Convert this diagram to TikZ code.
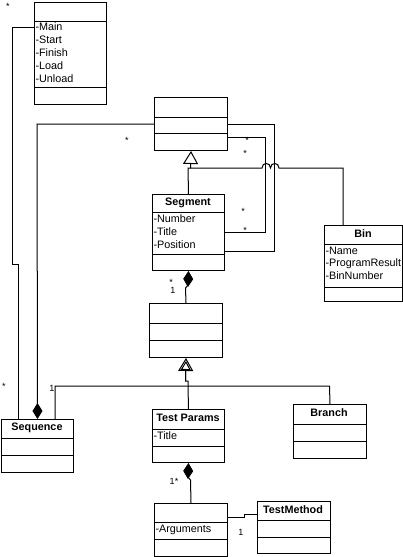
\documentclass[tikz,border=0pt]{standalone}
\usepackage{fontspec}
\setmainfont{Liberation Sans}
\usetikzlibrary{arrows.meta}

\begin{document}
\begin{tikzpicture}[x=1pt,y=-1pt,font=\fontsize{10.8}{13}\selectfont,
  cls/.style={draw,line width=1pt,inner sep=0,anchor=north west},
  attr/.style={anchor=west,inner sep=0},
  ttl/.style={inner sep=0,font=\fontsize{10.8}{13}\selectfont\bfseries},
  mult/.style={inner sep=0,font=\fontsize{9}{10}\selectfont},
  comp/.style={-{Diamond[length=16pt,width=10pt]}},
  gen/.style={-{Triangle[open,length=13pt,width=15pt]}}]
\useasboundingbox (0,0) rectangle (403,557);
\begin{scope}[line width=1pt]
%classes
\node[cls,minimum width=72,minimum height=102] (ctl) at (34,2) {};
\draw (34,21) -- (106,21);
\draw (34,87) -- (106,87);
\node[attr] (main) at (35,27) {-Main};
\node[attr] (start) at (35,40) {-Start};
\node[attr] (finish) at (35,53) {-Finish};
\node[attr] (load) at (35,66) {-Load};
\node[attr] (unload) at (35,79) {-Unload};

\node[cls,minimum width=73,minimum height=53] (base) at (154,97) {};
\draw (154,117) -- (227,117);
\draw (154,133) -- (227,133);

\node[cls,minimum width=72,minimum height=76] (seg) at (152,194) {};
\draw (152,212) -- (224,212);
\draw (152,254) -- (224,254);
\node[ttl] (segt) at (188,203) {Segment};
\node[attr] (number) at (153,219) {-Number};
\node[attr] (segtitle) at (153,232) {-Title};
\node[attr] (position) at (153,245) {-Position};

\node[cls,minimum width=78,minimum height=76] (bin) at (324,225) {};
\draw (324,244) -- (402,244);
\draw (324,287) -- (402,287);
\node[ttl] (bint) at (363,234) {Bin};
\node[attr] (name) at (325,251) {-Name};
\node[attr] (result) at (325,264) {-ProgramResult};
\node[attr] (binnum) at (325,276) {-BinNumber};

\node[cls,minimum width=73,minimum height=54] (step) at (149,303) {};
\draw (149,323) -- (222,323);
\draw (149,340) -- (222,340);

\node[cls,minimum width=72,minimum height=53] (seq) at (1,419) {};
\draw (1,438) -- (73,438);
\draw (1,455) -- (73,455);
\node[ttl] (seqt) at (37,428) {Sequence};

\node[cls,minimum width=72,minimum height=53] (tp) at (152,409) {};
\draw (152,429) -- (224,429);
\draw (152,446) -- (224,446);
\node[ttl] (tpt) at (188,418) {Test Params};
\node[attr] (tptitle) at (153,436) {-Title};

\node[cls,minimum width=73,minimum height=54] (branch) at (293,404) {};
\draw (293,424) -- (366,424);
\draw (293,441) -- (366,441);
\node[ttl] (brt) at (329,413) {Branch};

\node[cls,minimum width=73,minimum height=53] (args) at (154,503) {};
\draw (154,522) -- (227,522);
\draw (154,539) -- (227,539);
\node[attr] (arguments) at (155,530) {-Arguments};

\node[cls,minimum width=73,minimum height=52] (tm) at (257,501) {};
\draw (257,520) -- (330,520);
\draw (257,537) -- (330,537);
\node[ttl] (tmt) at (293,510) {TestMethod};

%connectors
\draw (ctl.west |- main) -- (12,27) -- (12,264) -- (18,264) -- (seq.north -| 18,0);
\draw[comp] (base.west |- 0,124) -- (37,124) -- (seq.north);
\draw (base.east |- 0,124) -- (274,124) -- (274,251) -- (seg.east |- 0,251);
\draw (base.east |- 0,137) -- (265,137) -- (265,232) -- (seg.east |- 0,232);
\draw (seg.north) -- (188,168) -- (190.5,168);
\draw[gen] (bin.north -| 343,0) -- (343,168) -- (279,168)
  .. controls (279,162) and (270.5,162) .. (270.5,168)
  .. controls (270.5,162) and (262,162) .. (262,168)
  -- (190.5,168) -- (base.south);
\draw[comp] (step.north) -- (185.5,288) -- (188,285) -- (seg.south);
\draw (seq.north -| 55,0) -- (55,386) -- (329.5,386) -- (branch.north);
\draw[gen] (tp.north) -- (188,386) -- (188,381) -- (185.5,381) -- (step.south);
\draw[-{Triangle[open,length=9pt,width=10pt]},shorten >=3pt] (185.5,381) -- (step.south);
\draw[comp] (args.north) -- (190.5,480) -- (188,477) -- (tp.south);
\draw (args.east |- 0,517) -- (244,517) -- (244,514) -- (tm.west |- 0,514);
\end{scope}
%multiplicities
\node[mult] (m1) at (8,6) {*};
\node[mult] (m2) at (127,140) {*};
\node[mult] (m3) at (247,140) {*};
\node[mult] (m4) at (245,153) {*};
\node[mult] (m5) at (243,211) {*};
\node[mult] (m6) at (245,230) {*};
\node[mult] (m7) at (171,282) {*};
\node[mult] (m8) at (173,290) {1};
\node[mult] (m9) at (4,386) {*};
\node[mult] (m10) at (52,388) {1};
\node[mult] (m11) at (174,481) {1*};
\node[mult] (m12) at (241,532) {1};
\end{tikzpicture}
\end{document}
